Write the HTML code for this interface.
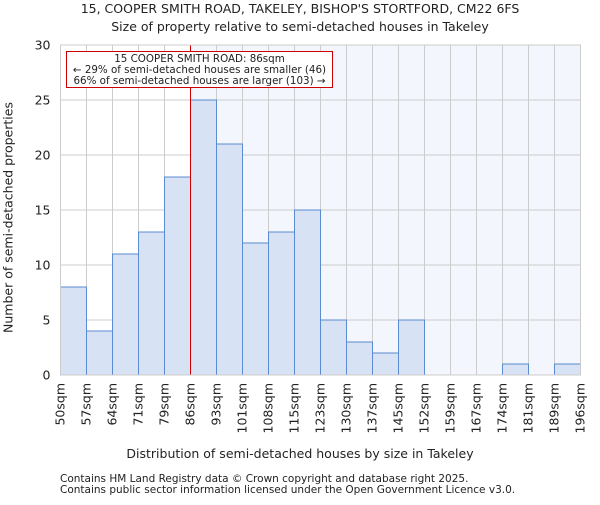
<!DOCTYPE html>
<html><head><meta charset="utf-8"><style>body{margin:0;background:#fff}svg{font-family:"DejaVu Sans","Liberation Sans",sans-serif}</style></head>
<body>
<svg id="c" width="600" height="500" xmlns="http://www.w3.org/2000/svg"></svg>
<script>
const categories=["50sqm","57sqm","64sqm","71sqm","79sqm","86sqm","93sqm","101sqm","108sqm","115sqm","123sqm","130sqm","137sqm","145sqm","152sqm","159sqm","167sqm","174sqm","181sqm","189sqm","196sqm"];
const counts=[8,4,11,13,18,25,21,12,13,15,5,3,2,5,0,0,0,1,0,1];
const yTicks=[0,5,10,15,20,25,30];
const markerBin=5;
const svg=document.getElementById('c');const NS='http://www.w3.org/2000/svg';
const L=60.5,R=580.5,T=45,B=375,yMax=30;
const n=counts.length,bw=(R-L)/n;
const x=i=>L+i*bw, y=v=>B-(B-T)*v/yMax;
function el(t,a,p,txt){const e=document.createElementNS(NS,t);for(const k in a)e.setAttribute(k,a[k]);if(txt!==undefined)e.textContent=txt;(p||svg).appendChild(e);return e;}
let e;
e=el('rect',{x:x(markerBin),y:T,width:R-x(markerBin),height:B-T,fill:'#f3f6fc'});


for(let i=0;i<=n;i++){e=el('line',{x1:x(i),x2:x(i),y1:T,y2:B,stroke:'#cccccc','stroke-width':1});

}
yTicks.forEach(v=>{e=el('line',{x1:L,x2:R,y1:y(v),y2:y(v),stroke:'#cccccc','stroke-width':1});


e=el('text',{x:L-10,y:y(v)+4.5,'text-anchor':'end','font-size':12.5,fill:'#222'},undefined,String(v));

});
counts.forEach((c,i)=>{if(c<=0)return;e=el('rect',{x:x(i),y:y(c),width:bw,height:B-y(c),fill:'#d7e2f4',stroke:'#5b8bd0','stroke-width':1});

});
categories.forEach((c,i)=>{const xx=x(i)+4;e=el('text',{x:xx,y:B+8,'font-size':12.5,fill:'#222','text-anchor':'end',transform:`rotate(-90 ${xx} ${B+8})`},undefined,c);

});
e=el('line',{x1:x(markerBin),x2:x(markerBin),y1:T,y2:B,stroke:'#cc0000','stroke-width':1});


e=el('rect',{x:L,y:T,width:R-L,height:B-T,fill:'none',stroke:'#cccccc'});


const g=el('g',{});
el('rect',{x:66.5,y:51.5,width:266,height:36,fill:'#fff',stroke:'#cc0000'},g);
el('text',{x:199.5,y:62,'text-anchor':'middle','font-size':10.3,fill:'#222'},g,'15 COOPER SMITH ROAD: 86sqm');
el('text',{x:199.5,y:73,'text-anchor':'middle','font-size':10.3,fill:'#222'},g,'← 29% of semi-detached houses are smaller (46)');
el('text',{x:199.5,y:84,'text-anchor':'middle','font-size':10.3,fill:'#222'},g,'66% of semi-detached houses are larger (103) →');
</script>
<div style="position:absolute;left:0;top:0;width:600px;height:500px;pointer-events:none;font-family:'DejaVu Sans','Liberation Sans',sans-serif;color:#222">
<div style="position:absolute;left:0;width:600px;top:0;text-align:center;font-size:12.5px;line-height:18px">15, COOPER SMITH ROAD, TAKELEY, BISHOP'S STORTFORD, CM22 6FS<br>Size of property relative to semi-detached houses in Takeley</div>
<div style="position:absolute;left:0;width:600px;top:446px;text-align:center;font-size:12.5px">Distribution of semi-detached houses by size in Takeley</div>
<div style="position:absolute;left:-142px;top:210px;width:300px;text-align:center;font-size:12.5px;white-space:nowrap;transform:rotate(-90deg)">Number of semi-detached properties</div>
<div style="position:absolute;left:60px;top:474px;font-size:10.5px;line-height:11px">Contains HM Land Registry data © Crown copyright and database right 2025.<br>Contains public sector information licensed under the Open Government Licence v3.0.</div>
</div>
</body></html>
